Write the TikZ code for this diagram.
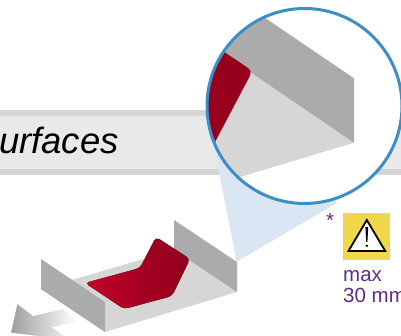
\documentclass[tikz,border=0pt]{standalone}
\usepackage{fontspec}
\setmainfont{Liberation Sans}
\definecolor{wallgray}{HTML}{ABABAB}
\definecolor{floorgray}{HTML}{D6D6D6}
\definecolor{bandgray}{HTML}{E9E9E9}
\definecolor{conefill}{HTML}{DAE6F4}
\definecolor{ringblue}{HTML}{3B8FC6}
\definecolor{redleft}{HTML}{C20029}
\definecolor{redright}{HTML}{8F001C}
\definecolor{signyellow}{HTML}{F0D84A}
\definecolor{notepurple}{HTML}{5B2D8C}
\begin{document}
\begin{tikzpicture}[
    x=1pt, y=-1pt,
    wall/.style={fill=wallgray},
    base/.style={fill=floorgray},
    note/.style={text=notepurple, font=\fontsize{20.5}{22}\selectfont, inner sep=0pt}
]
\clip (0,0) rectangle (401,336);

% banner
\fill[floorgray] (0,110) rectangle (401,175);
\fill[bandgray] (0,116) rectangle (401,169);
\node[anchor=base east, inner sep=0pt, font=\fontsize{36.5}{36}\selectfont\itshape] (title) at (119,154) {urfaces};

% arrow, a shaded block masked in white
\shade[left color=black!38, right color=white] (11,302) rectangle (77,340);
\fill[white, even odd rule] (3,296) rectangle (90,342)
    (11,332.7) -- (17.3,304) -- (33.3,316) -- (63,309) -- (77,322) -- (52,327.3) -- (70,340) -- cycle;

% tray
\fill[base] (41,289) -- (174,250) -- (237,292) -- (105,332) -- cycle;
\fill[wall] (174,220) -- (237,262) -- (237,292) -- (174,250) -- cycle;
\fill[left color=redleft, right color=redright, rounded corners=4]
    (85,283) -- (124,309) -- (172,296) -- (190,259) -- (156,237) -- (140,268) -- cycle;
\fill[wall] (41,259) -- (105,302) -- (105,332) -- (41,289) -- cycle;

% cone
\fill[conefill] (236.7,261.7) -- (213,142) -- (304,106) -- (337,203) -- cycle;

% magnifier
\begin{scope}
\clip (304.5,106) circle (97.5);
\fill[white] (304.5,106) circle (97.5);
\fill[base] (354,142.7) -- (190,192) -- (190,20) -- cycle;
\fill[wall] (354,78.3) -- (354,142.7) -- (190,31) -- (190,-33) -- cycle;
\fill[redright!105!black] (204,163) [rounded corners=5] -- (252.5,71) [sharp corners] -- (205,39) -- (190,50) -- (190,170) -- cycle;
\end{scope}
\node[draw=ringblue, line width=3pt, circle, minimum size=195pt, inner sep=0pt] (ring) at (304.5,106) {};

% warning sign
\node[fill=signyellow, minimum size=47pt, inner sep=0pt] (sign) at (366.5,236.5) {};
\fill[white, draw=black, line width=1.8pt, line join=miter] (366.8,220) -- (348.5,251) -- (385.2,251) -- cycle;
\fill[black] (365.4,227) -- (368.2,227) -- (367.4,242) -- (366.2,242) -- cycle;
\fill[black] (366.8,245.8) circle (1.4);
\node[note, anchor=center] (star) at (330,220.5) {*};
\node[note, anchor=base west] (maxlabel) at (343,281) {max};
\node[note, anchor=base west] (widthlabel) at (343,302.7) {30 mm};
\end{tikzpicture}
\end{document}
